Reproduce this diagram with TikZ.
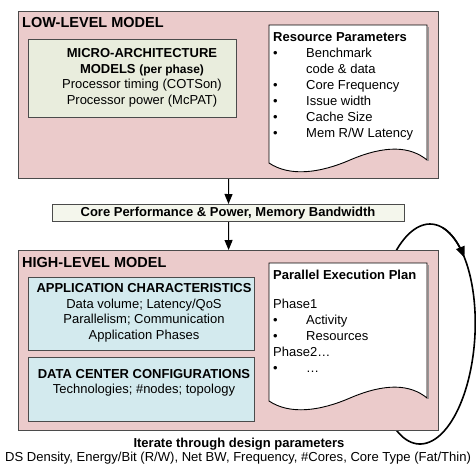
\documentclass[tikz,border=0pt]{standalone}
\usepackage{fontspec}
\setmainfont{Liberation Sans}
\usetikzlibrary{arrows.meta}

\definecolor{modelpink}{RGB}{235,203,203}
\definecolor{microgreen}{RGB}{233,237,221}
\definecolor{resultfill}{RGB}{244,246,236}
\definecolor{appcyan}{RGB}{211,234,238}
\definecolor{edgegray}{RGB}{75,75,75}
\definecolor{shadowgray}{RGB}{150,150,150}

% bullet item with a fixed indent, as in the parameter lists
\newcommand\itemline[1]{\makebox[33pt][l]{\textbullet}#1}

\tikzset{
  modelbox/.style={draw=edgegray, line width=1.2pt, fill=modelpink, inner sep=0pt, anchor=north west},
  innerbox/.style={draw=edgegray, line width=1.1pt, inner sep=0pt, anchor=north west},
  title/.style={font=\fontsize{14.5}{16}\selectfont\bfseries, inner sep=0pt, anchor=base west},
  boxtext/.style={font=\fontsize{13}{15.5}\selectfont, align=center, inner sep=0pt},
  listtext/.style={font=\fontsize{13}{16}\selectfont, align=left, inner sep=0pt, anchor=north west},
  docpath/.style={draw=black, line width=0.9pt, fill=white},
  docshadow/.style={draw=shadowgray, line width=1.2pt},
  flow/.style={line width=1pt, -{Triangle[length=10pt,width=8pt]}},
  loop/.style={line width=1.6pt},
}

\begin{document}
\begin{tikzpicture}[x=1pt,y=-1pt]
\useasboundingbox (0,0) rectangle (476,464);

% iteration loop, drawn first so the high-level box hides its left part
\draw[loop] plot[domain=-45:315, samples=120, smooth]
  ({425+50*cos(\x)-5*sin(\x)},{334+110*sin(\x)});
\draw[loop, -{Triangle[length=11pt,width=9pt]}] plot[domain=-75:-44, samples=20, smooth]
  ({425+50*cos(\x)-5*sin(\x)},{334+110*sin(\x)});

% ---------------- low-level model ----------------
\node[modelbox, minimum width=420pt, minimum height=167pt] (low) at (18,11) {};
\node[title] (lowtitle) at (22,27) {LOW-LEVEL MODEL};

\node[innerbox, fill=microgreen, minimum width=208pt, minimum height=78pt] (micro) at (28,39) {};
\node[boxtext] (microtext) at (142,78) {%
  \textbf{MICRO-ARCHITECTURE}\\
  \textbf{MODELS {\fontsize{12}{15.5}\selectfont(per phase)}}\\
  Processor timing (COTSon)\\
  Processor power (McPAT)};

\draw[docshadow] (428.5,27) -- (428.5,161);
\draw[docpath] (269,25) coordinate (resNW) -- (427,25) -- (427,160)
  .. controls (410,146) and (385,145) .. (350,160)
  .. controls (320,173) and (290,177) .. (269,163) -- cycle;
\node[listtext] (restext) at (273,32) {%
  \textbf{Resource Parameters}\\
  \itemline{Benchmark}\\
  \hspace*{33pt}code \& data\\
  \itemline{Core Frequency}\\
  \itemline{Issue width}\\
  \itemline{Cache Size}\\
  \itemline{Mem R/W Latency}};

% ---------------- intermediate result ----------------
\node[innerbox, fill=resultfill, line width=1pt, minimum width=352pt, minimum height=17pt] (result) at (52,204) {};
\node[boxtext, font=\fontsize{13}{14}\selectfont\bfseries] (resulttext) at (228,213)
  {Core Performance \& Power, Memory Bandwidth};

% ---------------- high-level model ----------------
\node[modelbox, minimum width=420pt, minimum height=180pt] (high) at (18,250) {};
\node[title] (hightitle) at (22,267) {HIGH-LEVEL MODEL};

\node[innerbox, fill=appcyan, minimum width=226pt, minimum height=73pt] (app) at (28,277) {};
\node[boxtext] (apptext) at (144,313) {%
  \textbf{APPLICATION CHARACTERISTICS}\\
  Data volume; Latency/QoS\\
  Parallelism; Communication\\
  Application Phases};

\node[innerbox, fill=appcyan, minimum width=226pt, minimum height=64pt] (dc) at (28,357) {};
\node[boxtext] (dctext) at (144,383) {%
  \textbf{DATA CENTER CONFIGURATIONS}\\
  Technologies; \#nodes; topology};

\draw[docshadow] (428.5,265) -- (428.5,399);
\draw[docpath] (269,263) coordinate (planNW) -- (427,263) -- (427,398)
  .. controls (410,384) and (385,383) .. (350,398)
  .. controls (320,411) and (290,415) .. (269,401) -- cycle;
\node[listtext] (plantext) at (273,270) {%
  \textbf{Parallel Execution Plan}\\[13pt]
  Phase1\\
  \itemline{Activity}\\
  \itemline{Resources}\\
  Phase2\ldots\\
  \itemline{\ldots}};

% ---------------- flow between the models ----------------
\draw[flow] (low.south) -- (result.north);
\draw[flow] (result.south) -- (high.north);

% ---------------- iteration caption ----------------
\node[boxtext, font=\fontsize{13}{15}\selectfont\bfseries, anchor=base] (iter) at (239,447)
  {Iterate through design parameters};
\node[boxtext, font=\fontsize{13.05}{15}\selectfont, anchor=base] (params) at (238,461)
  {DS Density, Energy/Bit (R/W), Net BW, Frequency, \#Cores, Core Type (Fat/Thin)};
\end{tikzpicture}
\end{document}
